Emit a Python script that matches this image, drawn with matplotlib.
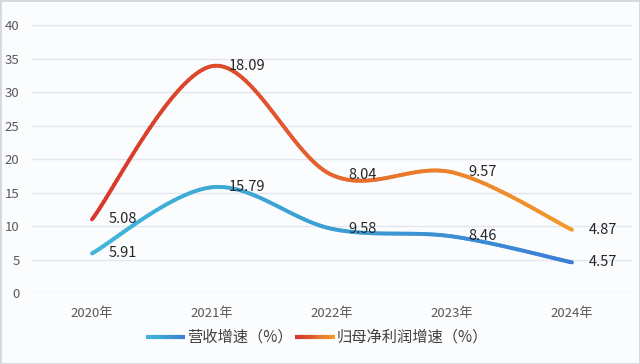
import numpy as np
import matplotlib
matplotlib.use("Agg")
import matplotlib.pyplot as plt
from matplotlib.collections import LineCollection
from matplotlib.colors import LinearSegmentedColormap
from matplotlib.legend_handler import HandlerBase
from matplotlib.lines import Line2D
from matplotlib.patches import Rectangle

plt.rcParams['font.family'] = ['Noto Sans CJK SC', 'DejaVu Sans']

# data
years = ['2020年', '2021年', '2022年', '2023年', '2024年']
revenue_growth = [5.91, 15.79, 9.58, 8.46, 4.57]      # 营收增速
profit_growth = [5.08, 18.09, 8.04, 9.57, 4.87]       # 归母净利润增速 (stacked)

blue_cmap = LinearSegmentedColormap.from_list('b', ['#41b6d9', '#3b9fd3', '#3a7fd4'])
red_cmap = LinearSegmentedColormap.from_list('r', ['#d8372a', '#df502d', '#ea7a2c', '#f39a2c'])


def smooth(x, y, n=40):
    # catmull-rom style smoothing (like excel smoothed line)
    x = np.asarray(x, float)
    y = np.asarray(y, float)
    px = np.concatenate([[x[0]], x, [x[-1]]])
    py = np.concatenate([[y[0]], y, [y[-1]]])
    xs, ys = [], []
    for i in range(1, len(px) - 2):
        p0 = np.array([px[i], py[i]])
        p3 = np.array([px[i + 1], py[i + 1]])
        c1 = p0 + (np.array([px[i + 1], py[i + 1]]) - np.array([px[i - 1], py[i - 1]])) / 6
        c2 = p3 - (np.array([px[i + 2], py[i + 2]]) - np.array([px[i], py[i]])) / 6
        t = np.linspace(0, 1, n)[:, None]
        pts = (1 - t) ** 3 * p0 + 3 * (1 - t) ** 2 * t * c1 + 3 * (1 - t) * t ** 2 * c2 + t ** 3 * p3
        if i > 1:
            pts = pts[1:]
        xs.append(pts[:, 0])
        ys.append(pts[:, 1])
    return np.concatenate(xs), np.concatenate(ys)


def grad_line(ax, x, y, cmap, lw=2.8):
    sx, sy = smooth(x, y)
    pts = np.column_stack([sx, sy]).reshape(-1, 1, 2)
    segs = np.concatenate([pts[:-1], pts[1:]], axis=1)
    lc = LineCollection(segs, cmap=cmap, linewidth=lw, capstyle='round', joinstyle='round')
    lc.set_array((sx[:-1] - sx.min()) / (sx.max() - sx.min()))
    ax.add_collection(lc)
    return lc


class GradHandler(HandlerBase):
    def __init__(self, cmap):
        super().__init__()
        self.cmap = cmap

    def create_artists(self, legend, orig_handle, xdescent, ydescent, width, height, fontsize, trans):
        xx = np.linspace(-xdescent, width - xdescent, 20)
        yy = np.full_like(xx, height / 2 - ydescent)
        pts = np.column_stack([xx, yy]).reshape(-1, 1, 2)
        segs = np.concatenate([pts[:-1], pts[1:]], axis=1)
        lc = LineCollection(segs, cmap=self.cmap, linewidth=3.0, transform=trans)
        lc.set_array(np.linspace(0, 1, len(segs)))
        return [lc]


fig = plt.figure(figsize=(6.4, 3.64), dpi=100)
fig.patch.set_facecolor('#fbfcfe')
ax = fig.add_axes([0.05, 0.195, 0.9375, 0.736])
ax.set_facecolor('#fbfcfe')

x = np.arange(len(years))
stack_top = np.array(revenue_growth) + np.array(profit_growth)

grad_line(ax, x, revenue_growth, blue_cmap)
grad_line(ax, x, stack_top, red_cmap)

for xi, yv, lab in zip(x, revenue_growth, revenue_growth):
    ax.annotate(f'{lab:.2f}', (xi, yv), xytext=(12, 0), textcoords='offset points',
                ha='left', va='center', fontsize=10.5, color='#262626')
for xi, yv, lab in zip(x, stack_top, profit_growth):
    ax.annotate(f'{lab:.2f}', (xi, yv), xytext=(12, 0), textcoords='offset points',
                ha='left', va='center', fontsize=10.5, color='#262626')

ax.set_xlim(-0.5, len(years) - 0.5)
ax.set_ylim(0, 40)
ax.set_yticks(range(0, 41, 5))
ax.set_xticks(x)
ax.set_xticklabels(years)
ax.grid(axis='y', color='#e3e6ec', linewidth=1)
ax.set_axisbelow(True)
for s in ax.spines.values():
    s.set_visible(False)
ax.tick_params(axis='both', length=0, labelsize=9.5, labelcolor='#595959')
ax.tick_params(axis='y', pad=9)
ax.tick_params(axis='x', pad=10)

h1 = Line2D([], [])
h2 = Line2D([], [])
fig.legend([h1, h2], ['营收增速（%）', '归母净利润增速（%）'],
           handler_map={h1: GradHandler(blue_cmap), h2: GradHandler(red_cmap)},
           loc='center', bbox_to_anchor=(0.495, 0.073), ncol=2, frameon=False,
           fontsize=11, handlelength=2.6, handletextpad=0.1, columnspacing=0.2,
           labelcolor='#404040')

fig.add_artist(Rectangle((0, 0), 1, 1, transform=fig.transFigure, fill=False,
                         edgecolor='#d4d7dc', linewidth=2))

fig.savefig('out.png', dpi=100, facecolor=fig.get_facecolor())
